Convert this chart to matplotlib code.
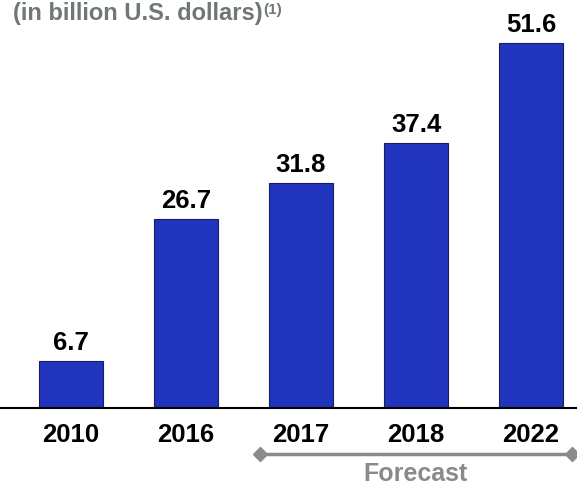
import numpy as np
import matplotlib.pyplot as plt
import matplotlib.transforms as mtransforms

years = ["2010", "2016", "2017", "2018", "2022"]
revenue = [6.7, 26.7, 31.8, 37.4, 51.6]
forecast_years = ["2017", "2018", "2022"]

bar_color = "#2134BD"
grey = "#6F7777"

plt.rcParams["font.family"] = ["Liberation Sans", "DejaVu Sans"]
plt.rcParams["font.weight"] = "bold"

fig = plt.figure(figsize=(5.77, 4.85), dpi=100)
ax = fig.add_axes([0, 76 / 485, 1, 409 / 485])

x = np.arange(len(years))
bars = ax.bar(x, revenue, width=0.557, color=bar_color,
              edgecolor="#1a1d5c", linewidth=0.8)

for xi, val in zip(x, revenue):
    ax.annotate(f"{val:.1f}", xy=(xi, val), xytext=(0, 5),
                textcoords="offset points", ha="center", va="bottom",
                fontsize=18.5, fontweight="bold", color="black")

ax.set_xlim(-71 / 115, 506 / 115)
ax.set_ylim(0, 409 / 7.08)

ax.set_xticks(x)
ax.set_xticklabels(years, fontsize=18.5, fontweight="bold")
ax.tick_params(axis="x", length=0, pad=10)
ax.set_yticks([])
for side in ["top", "left", "right"]:
    ax.spines[side].set_visible(False)
ax.spines["bottom"].set_linewidth(1.5)

# forecast bracket under the projected years
idx = [years.index(y) for y in forecast_years]
x0, x1 = idx[0] - 0.357, idx[-1] + 0.357
trans = mtransforms.blended_transform_factory(ax.transData, ax.transAxes)
ax.plot([x0, x1], [-0.1125, -0.1125], transform=trans, clip_on=False,
        color="#8a8a8a", linewidth=2.5, marker="D", markersize=7,
        markevery=[0, 1])
ax.text((x0 + x1) / 2, -0.16, "Forecast", transform=trans,
        ha="center", va="center", fontsize=18, fontweight="bold",
        color="#8a8a8a")

title = fig.text(13 / 577, 1 - 2 / 485, "(in billion U.S. dollars)",
                 ha="left", va="top", fontsize=17, fontweight="bold",
                 color=grey)
ax.annotate("(1)", xy=(1, 1), xycoords=title, xytext=(0.5, -0.5),
            textcoords="offset points", ha="left", va="top",
            fontsize=11, fontweight="bold", color=grey,
            annotation_clip=False)

fig.savefig("out.png", dpi=100)
